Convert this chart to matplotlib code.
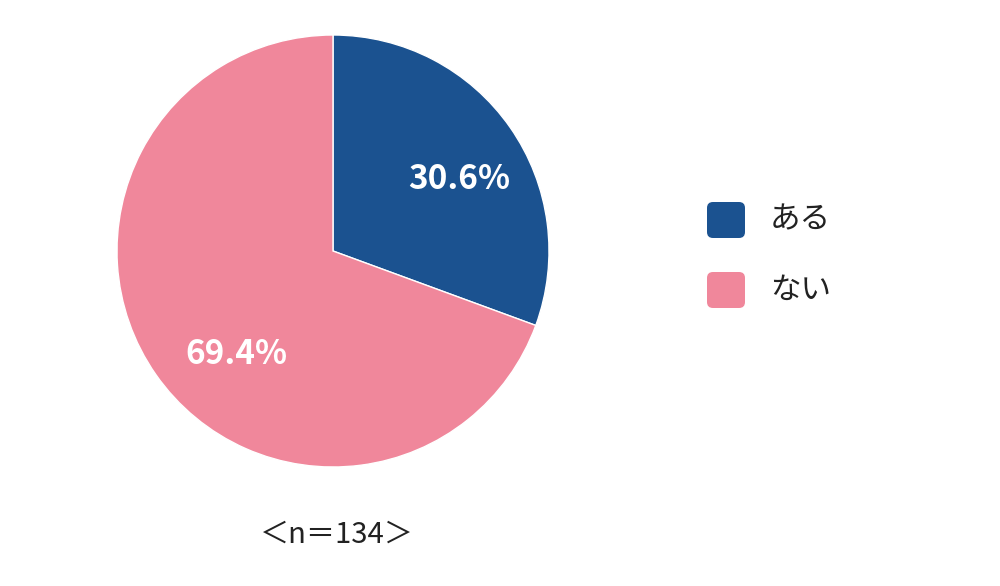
import numpy as np
import matplotlib
matplotlib.use('Agg')
import matplotlib.pyplot as plt
from matplotlib.patches import FancyBboxPatch

plt.rcParams['font.family'] = ['Noto Sans CJK JP', 'DejaVu Sans']

#data
labels = ['ある', 'ない']
values = [30.6, 69.4]
colors = ['#1b5290', '#f0879b']
n_text = '＜n＝134＞'

fig = plt.figure(figsize=(10, 5.86), dpi=100)

#pie axes placed so the circle sits at (333,251) px, radius 216
W, H = 1000, 586
cx, cy, r = 333, 251, 216
ax = fig.add_axes([(cx - r) / W, (H - cy - r) / H, 2 * r / W, 2 * r / H])
wedges, _ = ax.pie(values, colors=colors, startangle=90, counterclock=False,
                   radius=1.0, wedgeprops=dict(edgecolor='white', linewidth=1))
ax.set_xlim(-1, 1)
ax.set_ylim(-1, 1)
ax.set_aspect('equal')
ax.axis('off')

#percentage labels
label_pos = [(0.585, 0.33), (-0.445, -0.48)]
for v, (x, y) in zip(values, label_pos):
    ax.text(x, y, '%.1f%%' % v, ha='center', va='center', color='white',
            fontsize=24, fontweight='bold')

#legend drawn by hand: rounded squares + text
lax = fig.add_axes([0, 0, 1, 1])
lax.set_xlim(0, W)
lax.set_ylim(H, 0)
lax.axis('off')
box_y = [220, 290]
for lab, col, yy in zip(labels, colors, box_y):
    lax.add_patch(FancyBboxPatch((707, yy - 18), 38, 36,
                                 boxstyle='round,pad=0,rounding_size=6',
                                 facecolor=col, edgecolor='none'))
    lax.text(770, yy, lab, ha='left', va='center', fontsize=22, color='#222222')

lax.text(cx + 4, 535, n_text, ha='center', va='center', fontsize=21, color='#222222')

fig.savefig('out.png', dpi=100)
